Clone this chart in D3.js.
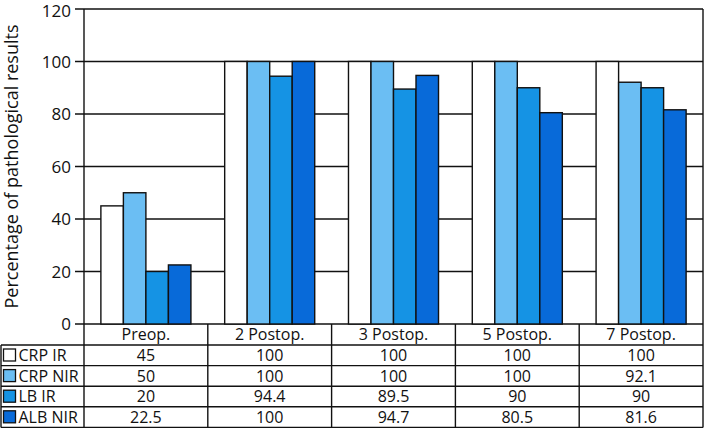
<!DOCTYPE html>
<html>
<head>
<meta charset="utf-8">
<script src="https://cdn.jsdelivr.net/npm/d3@7"></script>
<style>
  body { margin: 0; background: #fff; }
  text { font-family: "Open Sans", "Noto Sans", sans-serif; fill: #111; }
</style>
</head>
<body>
<div id="chart"></div>
<script>
const CATEGORIES = ["Preop.", "2 Postop.", "3 Postop.", "5 Postop.", "7 Postop."];
const SERIES = ["CRP IR", "CRP NIR", "LB IR", "ALB NIR"];
const COLORS = ["#ffffff", "#6bbef3", "#1593e4", "#086ad9"];
const CRP_IR = [45, 100, 100, 100, 100];
const CRP_NIR = [50, 100, 100, 100, 92.1];
const LB_IR = [20, 94.4, 89.5, 90, 90];
const ALB_NIR = [22.5, 100, 94.7, 80.5, 81.6];
const Y_TICKS = [0, 20, 40, 60, 80, 100, 120];

const VALUES = [CRP_IR, CRP_NIR, LB_IR, ALB_NIR];
const LABELS = ["45", "100", "100", "100", "100",
  "50", "100", "100", "100", "92.1",
  "20", "94.4", "89.5", "90", "90",
  "22.5", "100", "94.7", "80.5", "81.6"];

const width = 705, height = 430;
const plotL = 84, plotR = 703, plotT = 9, zeroY = 324;
const rowH = 20.6, headH = 21;
const tableBottom = zeroY + headH + rowH * 4;

const svg = d3.select("#chart").append("svg")
  .attr("width", width)
  .attr("height", height);

const x = d3.scaleBand()
  .domain(CATEGORIES)
  .range([plotL, plotR]);

const xs = d3.scaleBand()
  .domain(SERIES)
  .range([0, x.bandwidth()])
  .paddingOuter(0.75);

const y = d3.scaleLinear()
  .domain([0, 120])
  .range([zeroY, plotT]);

const color = d3.scaleOrdinal().domain(SERIES).range(COLORS);

// gridlines
svg.append("g")
  .selectAll("line")
  .data(Y_TICKS)
  .enter()
  .append("line")
    .attr("x1", plotL - 9)
    .attr("x2", plotR)
    .attr("y1", d => y(d))
    .attr("y2", d => y(d))
    .attr("stroke", "#111")
    .attr("stroke-width", 1.4);

// tick labels
svg.append("g")
  .selectAll("text")
  .data(Y_TICKS)
  .enter()
  .append("text")
    .attr("x", plotL - 13)
    .attr("y", d => Math.max(y(d), 11))
    .attr("dy", "0.36em")
    .attr("text-anchor", "end")
    .style("font-size", "17px")
    .text(d => d);

// axis title
svg.append("text")
  .attr("transform", "translate(18," + ((plotT + zeroY) / 2) + ") rotate(-90)")
  .attr("text-anchor", "middle")
  .style("font-size", "18px")
  .text("Percentage of pathological results");

// bars
const groups = svg.append("g")
  .selectAll("g")
  .data(SERIES)
  .enter()
  .append("g")
    .attr("fill", d => color(d));

groups.selectAll("rect")
  .data((s, i) => CATEGORIES.map((c, j) => ({ s: s, c: c, v: VALUES[i][j] })))
  .enter()
  .append("rect")
    .attr("x", d => x(d.c) + xs(d.s))
    .attr("y", d => y(d.v))
    .attr("width", xs.bandwidth())
    .attr("height", d => y(0) - y(d.v))
    .attr("stroke", "#111")
    .attr("stroke-width", 1.4);

// frame
svg.append("line")
  .attr("x1", plotL).attr("x2", plotL)
  .attr("y1", plotT).attr("y2", tableBottom)
  .attr("stroke", "#111").attr("stroke-width", 1.4);
svg.append("line")
  .attr("x1", plotR).attr("x2", plotR)
  .attr("y1", plotT).attr("y2", tableBottom)
  .attr("stroke", "#111").attr("stroke-width", 1.4);

// table
const table = svg.append("g");

// column dividers
table.selectAll(".col")
  .data(CATEGORIES.slice(1))
  .enter()
  .append("line")
    .attr("x1", d => x(d)).attr("x2", d => x(d))
    .attr("y1", zeroY).attr("y2", tableBottom)
    .attr("stroke", "#111").attr("stroke-width", 1.4);

// row lines
const rowYs = [0, 1, 2, 3, 4].map(i => zeroY + headH + rowH * i);
table.selectAll(".row")
  .data(rowYs)
  .enter()
  .append("line")
    .attr("x1", 1).attr("x2", plotR)
    .attr("y1", d => d).attr("y2", d => d)
    .attr("stroke", "#111").attr("stroke-width", 1.4);

table.append("line")
  .attr("x1", 1).attr("x2", 1)
  .attr("y1", rowYs[0]).attr("y2", tableBottom)
  .attr("stroke", "#111").attr("stroke-width", 1.4);

// header
table.selectAll(".head")
  .data(CATEGORIES)
  .enter()
  .append("text")
    .attr("x", d => x(d) + x.bandwidth() / 2)
    .attr("y", zeroY + headH / 2)
    .attr("dy", "0.36em")
    .attr("text-anchor", "middle")
    .style("font-size", "16px")
    .text(d => d);

// legend column
SERIES.forEach(function(s, i) {
  const ry = rowYs[i];
  table.append("rect")
    .attr("x", 3.5)
    .attr("y", ry + 4)
    .attr("width", 12)
    .attr("height", 12)
    .attr("fill", color(s))
    .attr("stroke", "#111")
    .attr("stroke-width", 1.3);
  table.append("text")
    .attr("x", 18.5)
    .attr("y", ry + rowH / 2)
    .attr("dy", "0.36em")
    .style("font-size", "16px")
    .text(s);

  CATEGORIES.forEach(function(c, j) {
    table.append("text")
      .attr("x", x(c) + x.bandwidth() / 2)
      .attr("y", ry + rowH / 2)
      .attr("dy", "0.36em")
      .attr("text-anchor", "middle")
      .style("font-size", "16px")
      .text(LABELS[i * 5 + j]);
  });
});
</script>
</body>
</html>
